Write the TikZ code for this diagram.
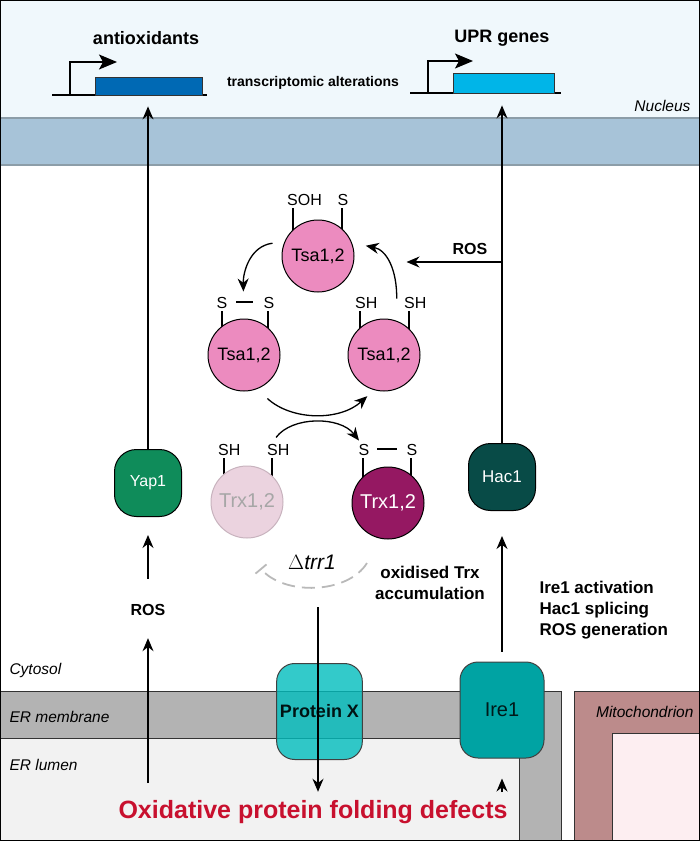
\documentclass[tikz,border=0pt]{standalone}
\usepackage{fontspec}
\setmainfont{Liberation Sans}
\usetikzlibrary{arrows.meta,positioning,calc}

\definecolor{nucbg}{HTML}{F0F8FC}
\definecolor{envband}{HTML}{A7C3D8}
\definecolor{envline}{HTML}{8C9DA8}
\definecolor{ermem}{HTML}{B3B3B3}
\definecolor{erlum}{HTML}{F2F2F2}
\definecolor{mitoout}{HTML}{BC8B8B}
\definecolor{mitoin}{HTML}{FDEEF1}
\definecolor{geneA}{HTML}{0069B4}
\definecolor{geneB}{HTML}{00B5E8}
\definecolor{tsapink}{HTML}{EC8BBF}
\definecolor{trxlight}{HTML}{EBD3DF}
\definecolor{trxdark}{HTML}{951862}
\definecolor{yapgreen}{HTML}{0F8C5A}
\definecolor{hacteal}{HTML}{084B47}
\definecolor{pxteal}{HTML}{00BDBD}
\definecolor{ireteal}{HTML}{00A3A3}
\definecolor{defred}{HTML}{C8102E}

\tikzset{
  arr/.style={-{Stealth[length=13pt,width=11pt]}, line width=1.3pt},
  carr/.style={-{Stealth[length=13pt,width=11pt]}, line width=1.3pt},
  prom/.style={-{Stealth[length=18pt,width=15pt,inset=4pt]}, line width=1.3pt},
  inhib/.style={draw=gray!55, line width=1.8pt, dash pattern=on 13pt off 7pt},
  tick/.style={line width=1.3pt},
  genebox/.style={draw=black!80, line width=0.8pt, inner sep=0pt},
  tsa/.style={circle, draw=black, line width=1pt, fill=tsapink, minimum size=72pt, inner sep=0pt, font=\fontsize{18}{20}\selectfont},
  trx/.style={circle, line width=1pt, minimum size=72pt, inner sep=0pt, font=\fontsize{20}{22}\selectfont},
  tf/.style={rounded corners=22pt, draw=black, line width=1pt, minimum width=67pt, minimum height=67pt, text=white},
  mem/.style={rounded corners=18pt, draw=black!75, line width=1pt, minimum width=84pt, minimum height=96pt},
  lbl/.style={font=\bfseries\fontsize{16}{18}\selectfont, align=center},
  side/.style={font=\bfseries\fontsize{17}{21}\selectfont},
  region/.style={font=\itshape\fontsize{15.5}{17}\selectfont},
  cys/.style={font=\fontsize{16}{17}\selectfont, inner sep=0pt},
}

\begin{document}
\begin{tikzpicture}[x=1pt,y=-1pt]
\useasboundingbox (0,0) rectangle (700,841);

% compartments
\fill[nucbg] (0,0) rectangle (700,118);
\fill[envband] (0,118) rectangle (700,165);
\draw[envline, line width=1.8pt] (0,118) -- (700,118) (0,165) -- (700,165);
\filldraw[fill=ermem, draw=black!80, line width=1pt] (0,691) -- (561,691) -- (561,841) -- (519,841) -- (519,738) -- (0,738) -- cycle;
\filldraw[fill=erlum, draw=black!80, line width=1pt] (0,738) rectangle (519,841);
\filldraw[fill=mitoout, draw=black!80, line width=1pt] (574,691) rectangle (700,841);
\filldraw[fill=mitoin, draw=black!80, line width=1pt] (612,733) rectangle (700,841);
\draw[line width=2.5pt] (0,0) rectangle (700,841);

\node[region, anchor=east] (nuc) at (694,106) {Nucleus};
\node[region, anchor=west] (cyt) at (6,670) {Cytosol};
\node[region, anchor=west] (erm) at (6,717) {ER membrane};
\node[region, anchor=west] (erl) at (6,765) {ER lumen};
\node[region, anchor=east] (mito) at (697,712) {Mitochondrion};

% genes
\draw[line width=1.3pt] (52,95) -- (207,95);
\node[genebox, fill=geneA, minimum width=107pt, minimum height=18pt] (antiox) at (148.5,86) {};
\draw[prom] (70,95) -- (70,62) -- (117,62);
\draw[line width=1.3pt] (410,93) -- (561,93);
\node[genebox, fill=geneB, minimum width=101pt, minimum height=20pt] (upr) at (503.5,83) {};
\draw[prom] (428,93) -- (428,61) -- (473,61);
\node[lbl, font=\bfseries\fontsize{18}{20}\selectfont] (antioxlbl) at (146,38) {antioxidants};
\node[lbl, font=\bfseries\fontsize{18}{20}\selectfont] (uprlbl) at (502,38) {UPR genes};
\node[lbl, font=\bfseries\fontsize{14}{16}\selectfont] (trans) at (313,83) {transcriptomic alterations};

% thiol ticks and labels
\draw[tick] (293,208) -- (293,256) (342,208) -- (342,256);
\node[cys, anchor=base west] (sohT) at (287,205) {SOH};
\node[cys, anchor=base] (sT) at (343,205) {S};
\draw[tick] (222,311) -- (222,355) (268,311) -- (268,355);
\node[cys, anchor=base] (sL1) at (222,308) {S};
\node[cys, anchor=base] (sL2) at (269,308) {S};
\draw[tick] (236,302) -- (253,302);
\draw[tick] (360,311) -- (360,355) (409,311) -- (409,355);
\node[cys, anchor=base west] (shR1) at (355,308) {SH};
\node[cys, anchor=base west] (shR2) at (404,308) {SH};
\draw[tick] (224,458) -- (224,502) (272,458) -- (272,502);
\node[cys, anchor=base west] (shX1) at (218,455) {SH};
\node[cys, anchor=base west] (shX2) at (267,455) {SH};
\draw[tick] (363,458) -- (363,503) (411,458) -- (411,503);
\node[cys, anchor=base] (sX1) at (364,455) {S};
\node[cys, anchor=base] (sX2) at (412,455) {S};
\draw[tick] (377,449) -- (397,449);

% proteins
\node[tsa] (tsaT) at (318,256) {Tsa1,2};
\node[tsa] (tsaL) at (244,355) {Tsa1,2};
\node[tsa] (tsaR) at (384,355) {Tsa1,2};
\node[trx, fill=trxlight, draw=trxlight!85!black, text=black!35] (trxR) at (247,502) {Trx1,2};
\node[trx, fill=trxdark, draw=black, text=white] (trxO) at (388,503) {Trx1,2};
\node[tf, fill=yapgreen, font=\fontsize{16}{18}\selectfont] (yap) at (148,483) {Yap1};
\node[tf, fill=hacteal, font=\fontsize{17}{19}\selectfont] (hac) at (502,477) {Hac1};
\node[mem, fill=pxteal, fill opacity=0.8, text opacity=1, text=black!85!teal, font=\bfseries\fontsize{18}{20}\selectfont] (protx) at (319.5,711.5) {Protein X};
\node[mem, fill=ireteal, text=black!80!teal, font=\fontsize{20}{22}\selectfont] (ire) at (502,710) {Ire1};

% labels
\node[lbl] (rosT) at (470,249) {ROS};
\node[lbl] (rosY) at (148,610) {ROS};
\node[font=\fontsize{21}{23}\selectfont] (dtrr) at (312,562) {$\Delta$\textit{trr1}};
\node[side, align=center] (oxtrx) at (430,583) {oxidised Trx\\accumulation};
\node[side, align=left, anchor=west] (ireact) at (536,610) {Ire1 activation\\Hac1 splicing\\ROS generation};
\node[font=\bfseries\fontsize{25}{27}\selectfont, text=defred] (defects) at (313,812) {Oxidative protein folding defects};

% coordinates for free ends
\coordinate (rosin) at (502,262);
\coordinate (erfold) at (148,783);
\coordinate (trrtop) at (318,607);
\coordinate (lumenire) at (502,792);
\coordinate (inhA) at (367,563);
\coordinate (inhB) at (261,569);

% signalling arrows
\draw[arr, shorten >=11pt] (yap.north) -- (yap.north |- antiox.south);
\draw[arr, shorten >=12pt] (hac.north) -- (hac.north |- upr.south);
\draw[arr, shorten >=52pt] (rosin) -- (rosin -| tsaT.east);
\draw[arr, shorten <=22pt, shorten >=18pt] (rosY) -- (yap);
\draw[arr, shorten >=19pt] (erfold) -- (rosY);
\draw[arr, shorten <=10pt, shorten >=25pt] (ire.north) -- (hac.south);
\draw[arr, shorten >=5pt] (trrtop) -- (trrtop |- defects.north);
\draw[arr, shorten >=20pt] (lumenire) -- (ire.south);

% Tsa cycle
\draw[carr, shorten <=12pt, shorten >=27pt] (tsaT.157) .. controls (250,246) and (243,272) .. (tsaL.north);
\draw[carr, shorten <=22pt, shorten >=14pt] (tsaR.70) .. controls (397,270) and (387,250) .. (tsaT.21);
\draw[carr, shorten <=14pt, shorten >=9pt] (tsaL.-69) .. controls (292,421) and (340,421) .. (tsaR.-106);
\draw[carr, shorten <=36pt, shorten >=34pt] (trxR.78) .. controls (292,416) and (340,416) .. (trxO.103);

% blocked Trx reduction
\draw[inhib] (inhA) .. controls (348,594) and (284,596) .. (inhB);
\draw[gray!55, line width=1.8pt] ($(inhB)+(-5.5,4.6)$) -- ($(inhB)+(5.5,-4.6)$);
\end{tikzpicture}
\end{document}
